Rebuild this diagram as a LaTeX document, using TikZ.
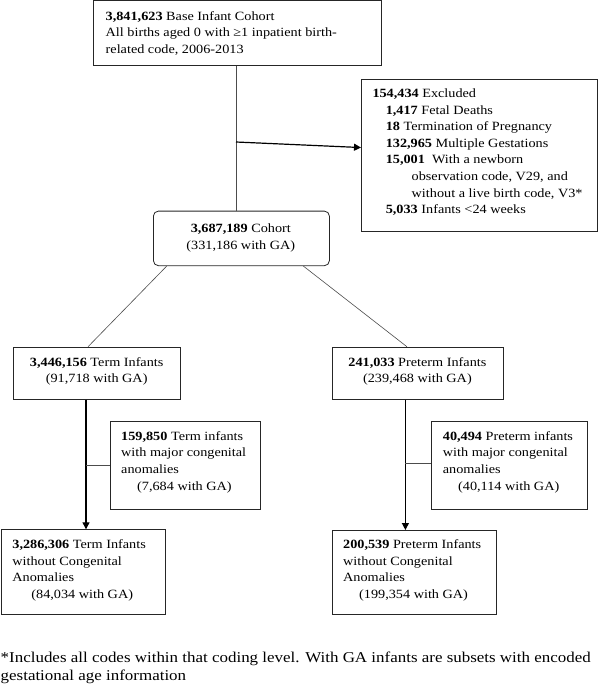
\documentclass[tikz,border=0pt]{standalone}
\usepackage{fontspec}
\setmainfont{Liberation Serif}[FakeStretch=1.13]
\usetikzlibrary{arrows.meta}
\begin{document}
\begin{tikzpicture}[x=1pt,y=-1pt,
 box/.style={draw=black!85, line width=0.8pt, anchor=north west, inner sep=0pt},
 txt/.style={inner sep=0pt, anchor=north west, align=left, font=\fontsize{12.6}{16.6}\selectfont},
 ctxt/.style={inner sep=0pt, anchor=north, align=center, font=\fontsize{12.6}{16.6}\selectfont},
 foot/.style={inner sep=0pt, anchor=north west, align=left, font=\fontsize{15}{17.5}\selectfont},
 thinline/.style={draw=black!70, line width=0.6pt},
 arr/.style={draw=black, line width=1.2pt, -{Triangle[length=7pt,width=7pt]}}]
\useasboundingbox (0,0) rectangle (597,685);
% boxes
\node[box, minimum width=287.7pt, minimum height=64.5pt] (top) at (93.3,0.5) {};
\node[box, minimum width=235.5pt, minimum height=152.3pt] (excl) at (361,79) {};
\node[box, rounded corners=5pt, minimum width=176pt, minimum height=54.6pt] (cohort) at (153,210.7) {};
\node[box, minimum width=166.7pt, minimum height=52pt] (term) at (13.3,346.7) {};
\node[box, minimum width=170.2pt, minimum height=52pt] (pre) at (332.3,346.7) {};
\node[box, minimum width=149.6pt, minimum height=87.7pt] (tside) at (110.4,421) {};
\node[box, minimum width=155.3pt, minimum height=87.7pt] (pside) at (431.3,421) {};
\node[box, minimum width=164.3pt, minimum height=84.7pt] (tbot) at (0.5,529.3) {};
\node[box, minimum width=164.4pt, minimum height=84pt] (pbot) at (331.6,530) {};
% texts (first baseline = y + 11.62)
\node[txt] (toptxt) at (105.5,8.2) {\strut\textbf{3,841,623} Base Infant Cohort\\All births aged 0 with ≥1 inpatient birth-\\related code, 2006-2013};
\node[txt] (excltxt) at (372.3,85.7) {\strut\textbf{154,434} Excluded\\
\hspace*{13.3pt}\textbf{1,417} Fetal Deaths\\
\hspace*{13.3pt}\textbf{18} Termination of Pregnancy\\
\hspace*{13.3pt}\textbf{132,965} Multiple Gestations\\
\hspace*{13.3pt}\textbf{15,001}\ \ With a newborn\\
\hspace*{39.2pt}observation code, V29, and\\
\hspace*{39.2pt}without a live birth code, V3*\\
\hspace*{13.3pt}\textbf{5,033} Infants <24 weeks};
\node[ctxt] (cohorttxt) at (240.8,220.7) {\strut\textbf{3,687,189} Cohort\\(331,186 with GA)};
\node[ctxt] (termtxt) at (96.7,354.4) {\strut\textbf{3,446,156} Term Infants\\(91,718 with GA)};
\node[ctxt] (pretxt) at (417.4,354.4) {\strut\textbf{241,033} Preterm Infants\\(239,468 with GA)};
\node[txt] (tsidetxt) at (121,428.4) {\strut\textbf{159,850} Term infants\\with major congenital\\anomalies\\\hspace*{16pt}(7,684 with GA)};
\node[txt] (psidetxt) at (442.7,428.4) {\strut\textbf{40,494} Preterm infants\\with major congenital\\anomalies\\\hspace*{15.3pt}(40,114 with GA)};
\node[txt] (tbottxt) at (12.2,536.7) {\strut\textbf{3,286,306} Term Infants\\without Congenital\\Anomalies\\\hspace*{19pt}(84,034 with GA)};
\node[txt] (pbottxt) at (343,536.7) {\strut\textbf{200,539} Preterm Infants\\without Congenital\\Anomalies\\\hspace*{16pt}(199,354 with GA)};
\node[foot] (note) at (0.5,650.2) {\strut*Includes all codes within that coding level. With GA infants are subsets with encoded\\gestational age information};
% connectors
\coordinate (j1) at (236,142);
\draw[thinline] (top.south -| j1) -- (cohort.north -| j1);
\draw[arr] (j1) -- ([yshift=8pt]excl.west);
\draw[thinline] ([xshift=13.7pt]cohort.south west) -- ([xshift=-9pt]term.north);
\draw[thinline] ([xshift=-26.4pt]cohort.south east) -- ([xshift=-10.9pt]pre.north);
\coordinate (tj) at (86,465.3);
\draw[arr] (term.south -| tj) -- (tbot.north -| tj);
\draw[thinline] (tj) -- (tside.west |- tj);
\coordinate (pj) at (405.4,463.3);
\draw[arr] (pre.south -| pj) -- (pbot.north -| pj);
\draw[thinline] (pj) -- (pside.west |- pj);
\end{tikzpicture}
\end{document}
